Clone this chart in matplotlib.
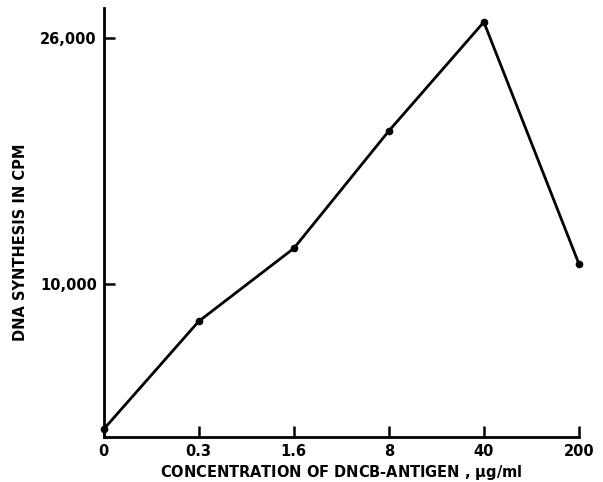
import numpy as np
import matplotlib.pyplot as plt

# concentration categories (equally spaced on the plot)
conc_labels = ["0", "0.3", "1.6", "8", "40", "200"]
# DNA synthesis, cpm
cpm = [520, 7550, 12300, 19950, 27050, 11300]

yticks = [10000, 26000]
ytick_labels = ["10,000", "26,000"]

fig = plt.figure(figsize=(6.03, 4.82), dpi=100)
ax = fig.add_axes([0.172, 0.093, 0.788, 0.89])

x = np.arange(len(conc_labels))
ax.plot(x, cpm, "-o", color="black", lw=2.0, ms=4.5, clip_on=False, zorder=3)

ax.set_xlim(0, len(conc_labels) - 1)
ax.set_ylim(0, 27950)

ax.spines["top"].set_visible(False)
ax.spines["right"].set_visible(False)
for s in ["left", "bottom"]:
    ax.spines[s].set_linewidth(2.0)

ax.set_xticks(x)
ax.set_xticklabels(conc_labels, fontsize=10.5, fontweight="bold")
ax.set_yticks(yticks)
ax.set_yticklabels(ytick_labels, fontsize=10.5, fontweight="bold")
ax.tick_params(direction="in", length=8, width=1.8, pad=5)

ax.set_xlabel(r"CONCENTRATION OF DNCB-ANTIGEN , $\mathbf{\mu}$g/ml",
              fontsize=10.5, fontweight="bold", labelpad=3)
ax.set_ylabel("DNA SYNTHESIS IN CPM", fontsize=10.5, fontweight="bold")
ax.yaxis.set_label_coords(-0.16, 0.455)

plt.savefig("out.png", dpi=100)
